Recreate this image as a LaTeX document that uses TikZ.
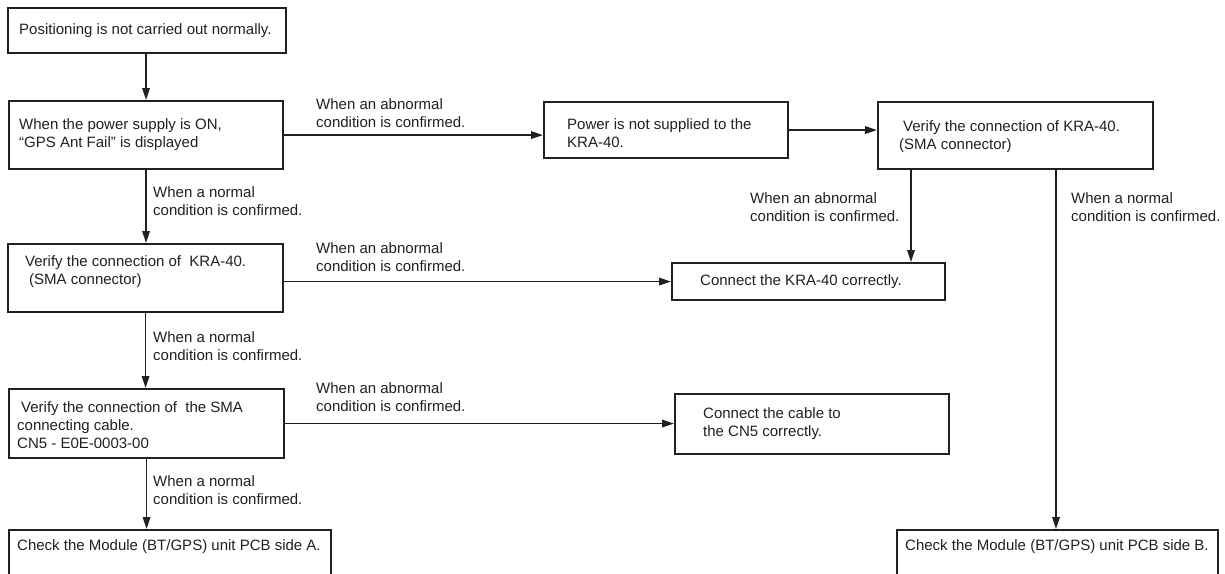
\documentclass[tikz,border=0pt]{standalone}
\usepackage{fontspec}
\setmainfont{Liberation Sans}
\usetikzlibrary{arrows.meta, positioning, calc}
\definecolor{ink}{RGB}{35, 31, 32}

\begin{document}
\begin{tikzpicture}[x=1pt, y=-1pt,
    box/.style={draw=ink, line width=2.1pt, anchor=north west, inner sep=0pt},
    txt/.style={anchor=west, align=left, inner sep=0pt, text=ink,
                font=\fontsize{15}{18}\selectfont},
    arr/.style={draw=ink, line width=1.7pt, -{Triangle[length=12pt, width=7.5pt]}}]
    \useasboundingbox (0,0) rectangle (1225,573);

    % --- left column ---
    \node[box, minimum width=278, minimum height=45] (start) at (7,7) {};
    \node[txt] (start-t) at ([xshift=12]start.west) {Positioning is not carried out normally.};

    \node[box, minimum width=274, minimum height=68] (gps) at (8,100) {};
    \node[txt] (gps-t) at ([xshift=11]gps.west)
          {When the power supply is ON,\\“GPS Ant Fail” is displayed};

    \node[box, minimum width=275, minimum height=68] (kraL) at (7,243) {};
    \node[txt] (kraL-t) at ([xshift=18, yshift=6]kraL.west)
          {Verify the connection of\ \ KRA-40.\\\hspace*{4pt}(SMA connector)};

    \node[box, minimum width=275, minimum height=69] (cable) at (8,388) {};
    \node[txt] (cable-t) at ([xshift=9, yshift=-2]cable.west)
          {\hspace*{4pt}Verify the connection of\ \ the SMA\\connecting cable.\\CN5 - E0E-0003-00};

    \node[box, minimum width=322, minimum height=70] (pcbA) at (8,529) {};
    \node[txt] (pcbA-t) at ([xshift=9, yshift=-18]pcbA.north west)
          {Check the Module (BT/GPS) unit PCB side A.};

    % --- right part ---
    \node[box, minimum width=244, minimum height=56] (nopwr) at (543,101) {};
    \node[txt] (nopwr-t) at ([xshift=24, yshift=-3]nopwr.west)
          {Power is not supplied to the\\KRA-40.};

    \node[box, minimum width=275, minimum height=67] (kraR) at (877,101) {};
    \node[txt] (kraR-t) at ([xshift=22, yshift=-1]kraR.west)
          {\hspace*{4pt}Verify the connection of KRA-40.\\(SMA connector)};

    \node[box, minimum width=273, minimum height=37] (fixkra) at (671,262) {};
    \node[txt] (fixkra-t) at ([xshift=29]fixkra.west) {Connect the KRA-40 correctly.};

    \node[box, minimum width=274, minimum height=60] (fixcab) at (674,393) {};
    \node[txt] (fixcab-t) at ([xshift=29]fixcab.west)
          {Connect the cable to\\the CN5 correctly.};

    \node[box, minimum width=321, minimum height=70] (pcbB) at (896,529) {};
    \node[txt] (pcbB-t) at ([xshift=9, yshift=-18]pcbB.north west)
          {Check the Module (BT/GPS) unit PCB side B.};

    % --- connectors ---
    \draw[arr] (gps.north |- start.south) -- (gps.north);
    \draw[arr] (gps.south) -- (gps.south |- kraL.north);
    \draw[arr] (kraL.south) -- (kraL.south |- cable.north);
    \draw[arr] (cable.south) -- (cable.south |- pcbA.north);
    \draw[arr] (gps.east) -- (gps.east -| nopwr.west);
    \draw[arr] (nopwr.east) -- (nopwr.east -| kraR.west);
    \draw[arr] (fixkra.west -| kraL.east) -- (fixkra.west);
    \draw[arr] (cable.east) -- (cable.east -| fixcab.west);
    \coordinate (kraR-a) at ([xshift=34]kraR.south west);
    \coordinate (kraR-b) at ([xshift=179]kraR.south west);
    \draw[arr] (kraR-a) -- (kraR-a |- fixkra.north);
    \draw[arr] (kraR-b) -- (kraR-b |- pcbB.north);

    % --- labels ---
    \node[txt] (ab1) at (316,113) {When an abnormal\\condition is confirmed.};
    \node[txt] (ok1) at (153,201) {When a normal\\condition is confirmed.};
    \node[txt] (ab2) at (316,257) {When an abnormal\\condition is confirmed.};
    \node[txt] (ok2) at (153,346) {When a normal\\condition is confirmed.};
    \node[txt] (ab3) at (316,397) {When an abnormal\\condition is confirmed.};
    \node[txt] (ok3) at (153,490) {When a normal\\condition is confirmed.};
    \node[txt] (ab4) at (750,207) {When an abnormal\\condition is confirmed.};
    \node[txt] (ok4) at (1071,207) {When a normal\\condition is confirmed.};
\end{tikzpicture}
\end{document}
